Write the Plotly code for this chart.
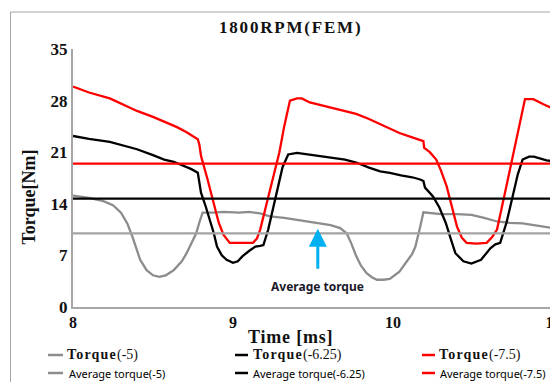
import plotly.graph_objects as go

# ---------------- data ----------------
time_m5 = [8.00, 8.10, 8.19, 8.25, 8.30, 8.34, 8.37, 8.42, 8.46, 8.50, 8.54, 8.58, 8.63, 8.68, 8.71,
           8.75, 8.77, 8.79, 8.81, 8.88, 8.94, 9.04, 9.10, 9.17, 9.23, 9.32, 9.40, 9.47, 9.54, 9.61,
           9.67, 9.71, 9.74, 9.77, 9.80, 9.835, 9.87, 9.90, 9.94, 9.98, 10.04, 10.08, 10.12, 10.14,
           10.16, 10.17, 10.19, 10.30, 10.40, 10.49, 10.57, 10.65, 10.73, 10.81, 10.88, 10.94, 11.03]
torque_m5 = [15.1, 14.8, 14.35, 13.8, 12.8, 11.3, 9.6, 6.4, 5.0, 4.3, 4.1, 4.3, 5.0, 6.2, 7.3,
             9.0, 10.0, 11.5, 12.8, 12.8, 12.9, 12.8, 12.9, 12.7, 12.3, 12.1, 11.85, 11.6, 11.4, 11.1,
             10.7, 10.0, 8.6, 6.9, 5.6, 4.6, 4.0, 3.7, 3.7, 3.8, 4.8, 5.95, 7.2, 8.2,
             9.8, 10.9, 12.85, 12.6, 12.6, 12.5, 12.1, 11.6, 11.4, 11.35, 11.1, 10.9, 10.6]

time_m625 = [8.00, 8.10, 8.23, 8.30, 8.40, 8.50, 8.57, 8.63, 8.69, 8.74, 8.78, 8.795, 8.80, 8.83, 8.855,
             8.88, 8.90, 8.93, 8.96, 9.00, 9.03, 9.06, 9.10, 9.14, 9.17, 9.19, 9.22, 9.25, 9.28, 9.31,
             9.345, 9.40, 9.50, 9.61, 9.70, 9.77, 9.85, 9.92, 9.98, 10.05, 10.12, 10.17, 10.19, 10.20,
             10.25, 10.29, 10.33, 10.36, 10.39, 10.44, 10.49, 10.55, 10.58, 10.61, 10.64, 10.67, 10.71,
             10.75, 10.78, 10.81, 10.85, 10.88, 10.92, 10.96, 11.03]
torque_m625 = [23.2, 22.8, 22.4, 22.0, 21.4, 20.6, 20.0, 19.7, 19.2, 18.7, 18.2, 16.5, 15.5, 13.6, 11.85,
               10.0, 8.2, 7.0, 6.4, 6.0, 6.2, 6.9, 7.6, 8.2, 8.3, 8.4, 10.5, 13.2, 16.3, 19.0,
               20.7, 20.9, 20.6, 20.3, 20.0, 19.6, 18.9, 18.4, 18.2, 17.85, 17.6, 17.3, 17.1, 16.2,
               15.0, 13.5, 11.4, 9.3, 7.3, 6.2, 5.9, 6.4, 7.2, 8.0, 8.5, 8.7, 11.5,
               15.0, 18.0, 20.0, 20.4, 20.4, 20.1, 19.9, 19.7]

time_m75 = [8.00, 8.10, 8.23, 8.30, 8.40, 8.50, 8.585, 8.65, 8.71, 8.76, 8.78, 8.79, 8.80, 8.84, 8.877,
            8.91, 8.94, 8.98, 9.05, 9.125, 9.15, 9.17, 9.21, 9.25, 9.29, 9.32, 9.356, 9.40, 9.43, 9.48,
            9.55, 9.61, 9.70, 9.77, 9.85, 9.92, 9.98, 10.04, 10.12, 10.19, 10.195, 10.23, 10.27, 10.30,
            10.335, 10.37, 10.40, 10.43, 10.46, 10.52, 10.585, 10.62, 10.65, 10.70, 10.75, 10.79, 10.825,
            10.877, 10.91, 10.94, 10.98, 11.03]
torque_m75 = [29.9, 29.1, 28.3, 27.6, 26.6, 25.8, 25.0, 24.4, 23.7, 23.1, 22.75, 22.0, 20.5, 17.4, 14.1,
              11.5, 9.8, 8.7, 8.7, 8.7, 9.3, 10.5, 14.0, 17.5, 21.0, 24.5, 28.0, 28.3, 28.3, 27.75,
              27.4, 27.1, 26.6, 26.2, 25.5, 24.8, 24.2, 23.6, 23.0, 22.5, 21.6, 21.0, 20.0, 18.5,
              16.4, 13.5, 10.9, 9.4, 8.7, 8.6, 8.7, 9.5, 10.5, 15.5, 20.5, 24.5, 28.2,
              28.2, 27.8, 27.5, 27.1, 26.8]

avg_time = [8.0, 11.03]
avg_m5 = [10.0, 10.0]
avg_m625 = [14.7, 14.7]
avg_m75 = [19.45, 19.45]

series_names = ["Torque(-5)", "Torque(-6.25)", "Torque(-7.5)"]
avg_names = ["Average torque(-5)", "Average torque(-6.25)", "Average torque(-7.5)"]
y_ticks = [0, 7, 14, 21, 28, 35]
x_ticks = [8, 9, 10, 11]

# ---------------- style ----------------
GRAY, GRAY_AVG, BLACK, RED = "#8c8c8c", "#a3a3a3", "#000000", "#ff0000"
LW = 2.3
OFF = 8  # page body margin
W, H = 558 - OFF, 382 - OFF
# absolute page positions of plot area
AL, AR, AT, AB = 73, 557, 49, 307
L, R, T, B = AL - OFF, W - (AR - OFF), AT - OFF, H - (AB - OFF)
PW, PH = AR - AL, AB - AT


def px(x):
    return (x - AL) / PW


def py(y):
    return (AB - y) / PH


fig = go.Figure()
for t, v, c, n in [(time_m5, torque_m5, GRAY, series_names[0]),
                   (time_m625, torque_m625, BLACK, series_names[1]),
                   (time_m75, torque_m75, RED, series_names[2])]:
    fig.add_trace(go.Scatter(x=t, y=v, mode="lines", name=n, showlegend=False,
                             line=dict(color=c, width=LW)))
for v, c, n in [(avg_m5, GRAY_AVG, avg_names[0]), (avg_m625, BLACK, avg_names[1]),
                (avg_m75, RED, avg_names[2])]:
    fig.add_trace(go.Scatter(x=avg_time, y=v, mode="lines", name=n, showlegend=False,
                             line=dict(color=c, width=LW)))

serif = "Liberation Serif"
sans = "Noto Sans"

ann = []
shapes = []
# title
ann.append(dict(text="<b><span style='letter-spacing:1.8px'>1800RPM(FEM)</span></b>",
                xref="paper", yref="paper", x=px(290), y=py(27), showarrow=False,
                xanchor="center", yanchor="middle", font=dict(family=serif, size=17, color="#111")))
# y title
ann.append(dict(text="<b>Torque[Nm]</b>", textangle=-90, xref="paper", yref="paper",
                x=px(28.5), y=py(197), showarrow=False, xanchor="center", yanchor="middle",
                font=dict(family=serif, size=18, color="#111")))
# x title
ann.append(dict(text="<b><span style='letter-spacing:0.8px'>Time [ms]</span></b>", xref="paper", yref="paper",
                x=px(290), y=py(337), showarrow=False, xanchor="center", yanchor="middle",
                font=dict(family=serif, size=18, color="#111")))
# arrow annotation
ann.append(dict(text="", x=9.53, y=10.6, ax=9.53, ay=5.0, axref="x", ayref="y", xref="x", yref="y",
                showarrow=True, arrowhead=2, arrowsize=1.2, arrowwidth=3, arrowcolor="#00b0f0"))
ann.append(dict(text="<b>Average torque</b>", x=9.53, y=py(286), xref="x", yref="paper",
                showarrow=False, xanchor="center", yanchor="middle",
                font=dict(family=sans, size=12, color="#1a1a2a")))

# manual legend
cols_line = [(48, 63), (235, 248), (422, 435)]
row1_text_x = [65, 251, 437]
row2_text_x = [67, 251, 438]
colors = [GRAY, BLACK, RED]
for i in range(3):
    for row_y in (355, 373):
        shapes.append(dict(type="line", xref="paper", yref="paper",
                           x0=px(cols_line[i][0]), x1=px(cols_line[i][1]),
                           y0=py(row_y), y1=py(row_y), line=dict(color=colors[i], width=2.5)))
    name = series_names[i]
    ann.append(dict(text="<b><span style='letter-spacing:1.2px'>Torque</span></b>" + name[len("Torque"):],
                    xref="paper", yref="paper", x=px(row1_text_x[i]), y=py(355),
                    xanchor="left", yanchor="middle", showarrow=False,
                    font=dict(family=serif, size=14, color="#111")))
    ann.append(dict(text=avg_names[i], xref="paper", yref="paper", x=px(row2_text_x[i]), y=py(373),
                    xanchor="left", yanchor="middle", showarrow=False,
                    font=dict(family=sans, size=11, color="#000")))

# chart border (top and left visible)
shapes.append(dict(type="line", xref="paper", yref="paper", x0=px(10.5), x1=px(570),
                   y0=py(12), y1=py(12), line=dict(color="#a6a6a6", width=1)))
shapes.append(dict(type="line", xref="paper", yref="paper", x0=px(10.5), x1=px(10.5),
                   y0=py(12), y1=py(400), line=dict(color="#a6a6a6", width=1)))

fig.update_layout(
    width=W, height=H, margin=dict(l=L, r=R, t=T, b=B),
    paper_bgcolor="white", plot_bgcolor="white",
    showlegend=False, annotations=ann, shapes=shapes,
    xaxis=dict(range=[8, 8 + (AR - AL) / 160], tickvals=x_ticks,
               ticktext=["<b>%d</b>" % v for v in x_ticks], ticklabeloverflow="allow",
               showgrid=False, zeroline=False, showline=True, linecolor="#a6a6a6", linewidth=2,
               ticks="", tickfont=dict(family=serif, size=16, color="#111"), automargin=False),
    yaxis=dict(range=[0, 35], tickvals=y_ticks, ticktext=["<b>%d</b>" % v for v in y_ticks],
               showgrid=False, zeroline=False, showline=True, linecolor="#a6a6a6", linewidth=2,
               ticks="", tickfont=dict(family=serif, size=17, color="#111"), automargin=False),
)

fig.write_html("out.html")
